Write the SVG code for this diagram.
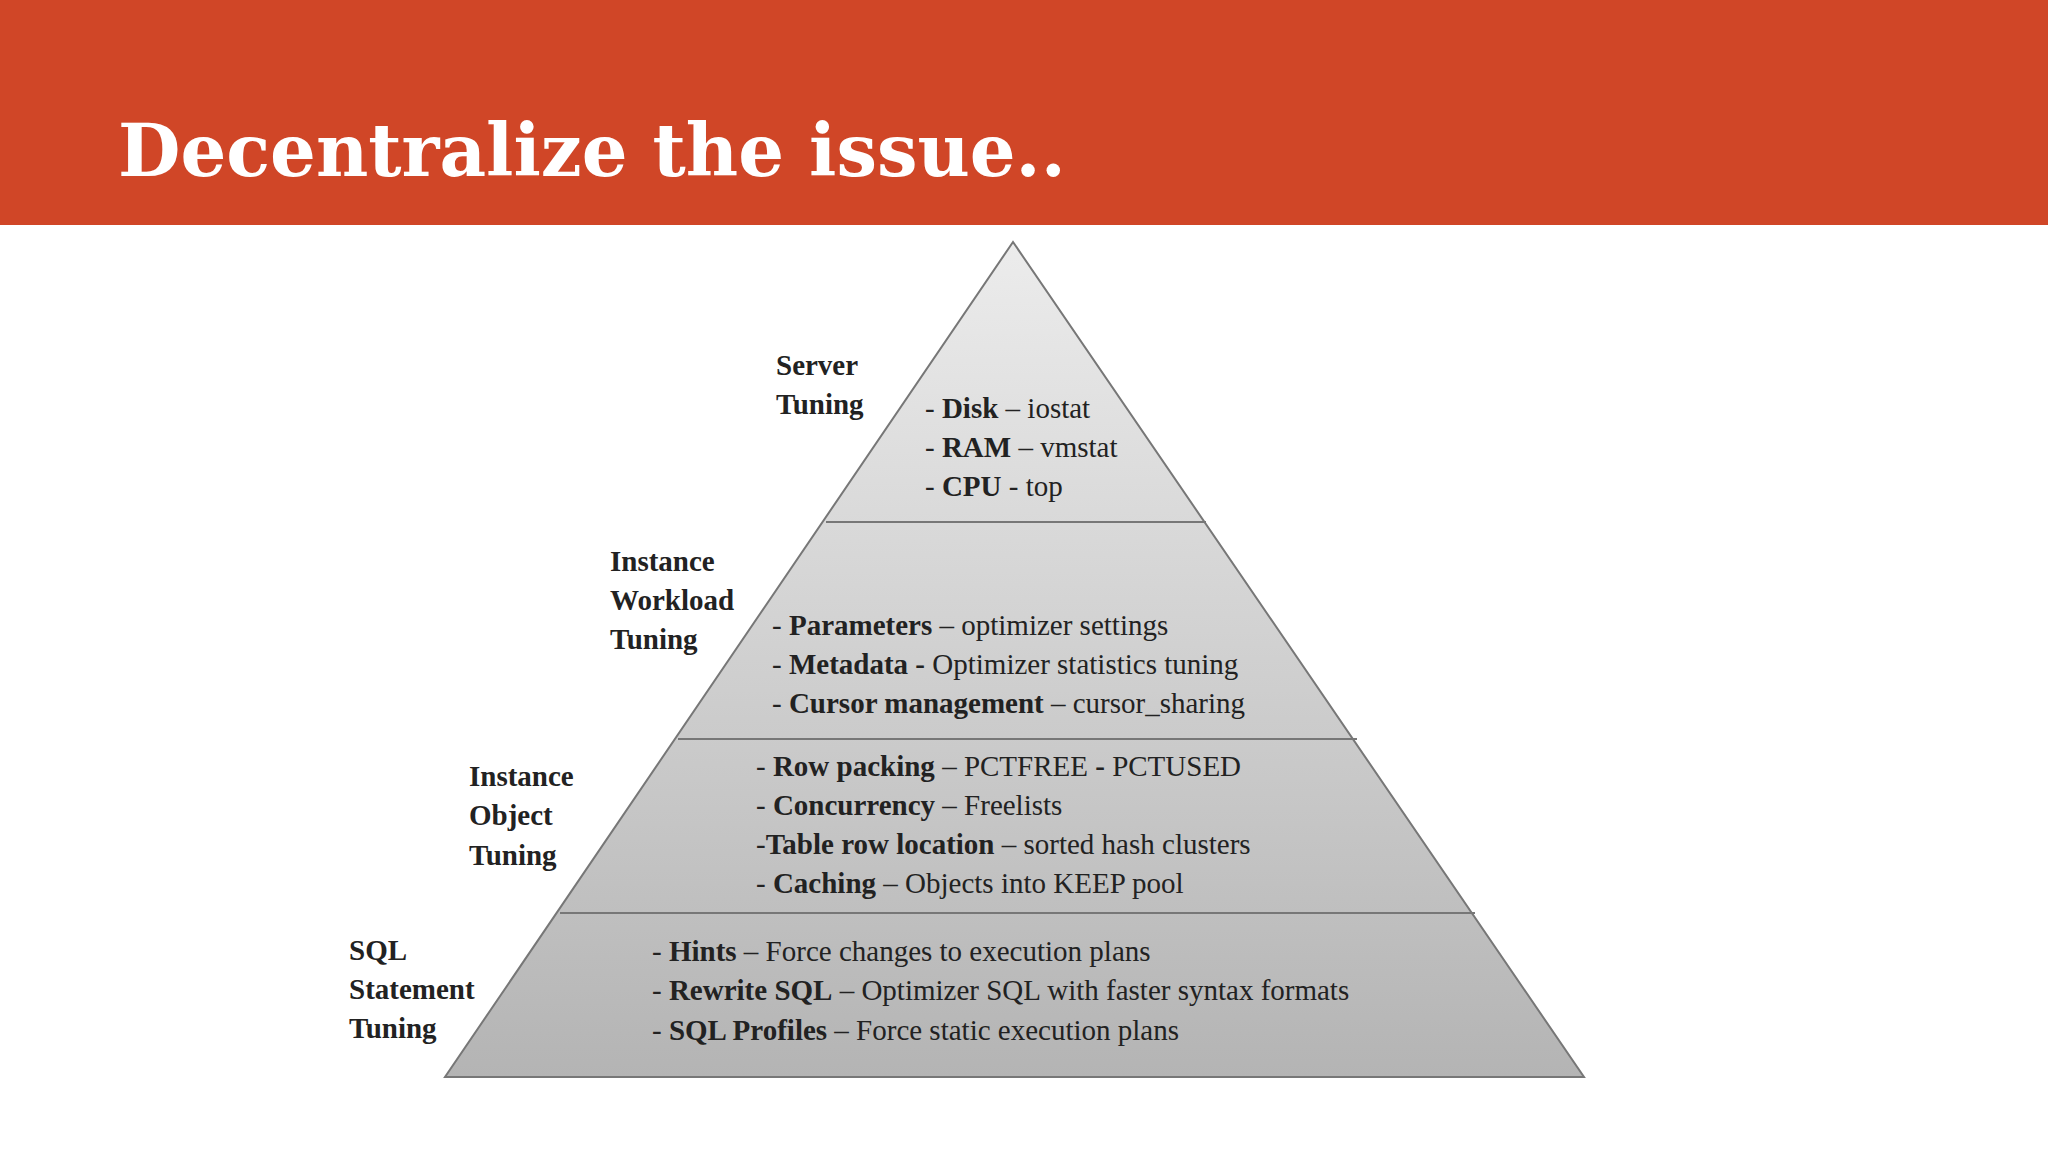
<svg xmlns="http://www.w3.org/2000/svg" width="2048" height="1152" viewBox="0 0 2048 1152">
<defs>
<linearGradient id="g" x1="0" y1="242" x2="0" y2="1077" gradientUnits="userSpaceOnUse">
<stop offset="0" stop-color="#ececec"/><stop offset="1" stop-color="#b4b4b4"/>
</linearGradient>
<style>
.t{font-family:"Liberation Serif",serif;font-size:29px;fill:#222}
.b{font-weight:bold}
.l{stroke:#777;stroke-width:2;fill:none}
</style>
</defs>
<rect width="2048" height="1152" fill="#fff"/>
<rect width="2048" height="225" fill="#d04627"/>
<text x="118" y="176" font-family="DejaVu Serif, serif" font-weight="bold" font-size="72" fill="#fff">Decentralize the issue..</text>
<g id="pyramid">
<polygon points="1013,242 445,1077 1584,1077" fill="url(#g)" stroke="#777" stroke-width="2"/>
<line class="l" x1="826" y1="522" x2="1206" y2="522"/>
<line class="l" x1="678" y1="739" x2="1357" y2="739"/>
<line class="l" x1="560" y1="913" x2="1475" y2="913"/>
</g>
<g id="server">
<text class="t b" x="776" y="375">Server</text>
<text class="t b" x="776" y="414">Tuning</text>
<text class="t" x="925" y="418">- <tspan class="b">Disk</tspan> – iostat</text>
<text class="t" x="925" y="457">- <tspan class="b">RAM</tspan> – vmstat</text>
<text class="t" x="925" y="496">- <tspan class="b">CPU</tspan> - top</text>
</g>
<g id="workload">
<text class="t b" x="610" y="571">Instance</text>
<text class="t b" x="610" y="610">Workload</text>
<text class="t b" x="610" y="649">Tuning</text>
<text class="t" x="772" y="635">- <tspan class="b">Parameters</tspan> – optimizer settings</text>
<text class="t" x="772" y="674">- <tspan class="b">Metadata -</tspan> Optimizer statistics tuning</text>
<text class="t" x="772" y="713">- <tspan class="b">Cursor management</tspan> – cursor_sharing</text>
</g>
<g id="object">
<text class="t b" x="469" y="786">Instance</text>
<text class="t b" x="469" y="825">Object</text>
<text class="t b" x="469" y="865">Tuning</text>
<text class="t" x="756" y="776">- <tspan class="b">Row packing</tspan> – PCTFREE <tspan class="b">-</tspan> PCTUSED</text>
<text class="t" x="756" y="815">- <tspan class="b">Concurrency</tspan> – Freelists</text>
<text class="t" x="756" y="854">-<tspan class="b">Table row location</tspan> – sorted hash clusters</text>
<text class="t" x="756" y="893">- <tspan class="b">Caching</tspan> – Objects into KEEP pool</text>
</g>
<g id="sql">
<text class="t b" x="349" y="960">SQL</text>
<text class="t b" x="349" y="999">Statement</text>
<text class="t b" x="349" y="1038">Tuning</text>
<text class="t" x="652" y="961">- <tspan class="b">Hints</tspan> – Force changes to execution plans</text>
<text class="t" x="652" y="1000">- <tspan class="b">Rewrite SQL</tspan> – Optimizer SQL with faster syntax formats</text>
<text class="t" x="652" y="1040">- <tspan class="b">SQL Profiles</tspan> – Force static execution plans</text>
</g>
<g id="connectors"/>
</svg>
